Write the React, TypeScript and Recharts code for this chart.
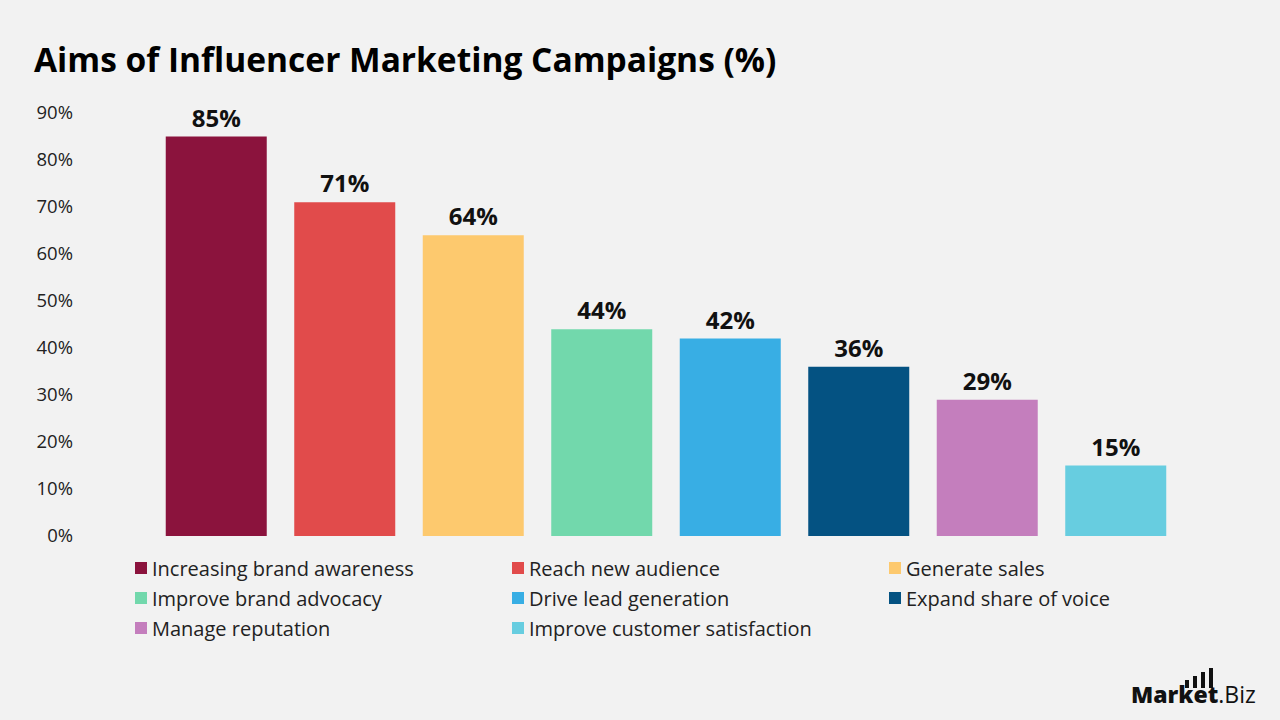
import { BarChart, Bar, XAxis, YAxis, Cell, LabelList } from "recharts";

const aims = [
  "Increasing brand awareness",
  "Reach new audience",
  "Generate sales",
  "Improve brand advocacy",
  "Drive lead generation",
  "Expand share of voice",
  "Manage reputation",
  "Improve customer satisfaction",
];
const shares = [85, 71, 64, 44, 42, 36, 29, 15];
const palette = [
  "#8b133d",
  "#e14b4b",
  "#fdc96e",
  "#72d8ac",
  "#38aee4",
  "#045282",
  "#c47ebd",
  "#67cde0",
];
const yTicks = [0, 10, 20, 30, 40, 50, 60, 70, 80, 90];

const data = aims.map((name, i) => ({ name, value: shares[i] }));

const FONT = "'Open Sans', 'Noto Sans', sans-serif";

function YTick({ y, payload }: any) {
  return (
    <text x={73} y={y} dy={6} textAnchor="end" fontSize={18.5} fill="#222" fontFamily={FONT}>
      {`${payload.value}%`}
    </text>
  );
}

function AimsLegend() {
  return (
    <div
      style={{
        position: "absolute",
        left: 135,
        top: 557,
        display: "grid",
        gridTemplateColumns: "377px 377px 377px",
        rowGap: 8,
        fontFamily: FONT,
        fontSize: 20,
        color: "#222",
      }}
    >
      {aims.map((name, i) => (
        <div key={name} style={{ display: "flex", alignItems: "center", height: 22 }}>
          <span
            style={{
              width: 12,
              height: 12,
              background: palette[i],
              marginRight: 5,
              display: "inline-block",
            }}
          />
          {name}
        </div>
      ))}
    </div>
  );
}

function Logo() {
  return (
    <svg width={140} height={50} style={{ position: "absolute", left: 1125, top: 664 }}>
      {[0, 1, 2, 3].map((k) => (
        <rect key={k} x={60 + k * 8} y={16 - k * 4} width={4} height={8 + k * 4} fill="#111" />
      ))}
      <text x={6} y={39} fontSize={23} fontWeight={800} fill="#111" fontFamily={FONT}>
        Market
        <tspan fontWeight={500}>.Biz</tspan>
      </text>
    </svg>
  );
}

export default function App() {
  return (
    <div
      style={{
        position: "absolute",
        left: 0,
        top: 0,
        width: 1280,
        height: 720,
        background: "#f2f2f2",
        overflow: "hidden",
      }}
    >
      <div
        style={{
          position: "absolute",
          left: 34,
          top: 36,
          fontFamily: FONT,
          fontWeight: 700,
          fontSize: 33.5,
          color: "#000",
          whiteSpace: "nowrap",
        }}
      >
        Aims of Influencer Marketing Campaigns (%)
      </div>
      <BarChart
        width={1280}
        height={720}
        data={data}
        margin={{ top: 113, right: 100, bottom: 184, left: 0 }}
        barCategoryGap="10.7%"
      >
        <YAxis
          width={152}
          domain={[0, 90]}
          ticks={yTicks}
          axisLine={false}
          tickLine={false}
          tick={<YTick />}
          interval={0}
        />
        <XAxis dataKey="name" hide />
        <Bar dataKey="value" isAnimationActive={false}>
          {data.map((d, i) => (
            <Cell key={d.name} fill={palette[i]} />
          ))}
          <LabelList
            dataKey="value"
            position="top"
            offset={10}
            formatter={(v: any) => `${v}%`}
            style={{ fontFamily: FONT, fontWeight: 700, fontSize: 24, fill: "#111" }}
          />
        </Bar>
      </BarChart>
      <AimsLegend />
      <Logo />
    </div>
  );
}
